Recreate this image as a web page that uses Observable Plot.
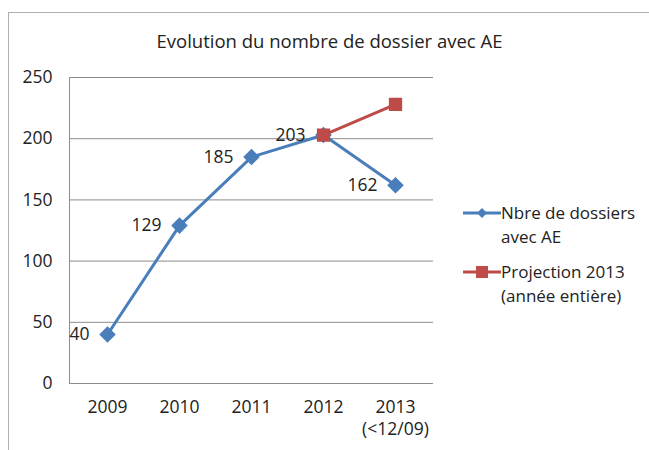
<!DOCTYPE html>
<html>
<head>
<meta charset="utf-8">
<script src="https://cdn.jsdelivr.net/npm/d3@7"></script>
<script src="https://cdn.jsdelivr.net/npm/@observablehq/plot@0.6"></script>
<style>
  html, body { margin: 0; padding: 0; background: #fff; }
  #wrap { position: relative; width: 649px; height: 450px; overflow: hidden; font-family: "Open Sans", Lato, sans-serif; color: #222; }
  #frame { position: absolute; left: 8px; top: 12px; width: 660px; height: 460px; border: 1px solid #b0b0b0; box-sizing: border-box; }
  #title { position: absolute; left: 0; width: 649px; top: 29px; text-align: center; padding-left: 10px; box-sizing: border-box; font-size: 18.5px; line-height: 24px; color: #222; }
  #chart { position: absolute; left: 0; top: 0; }
  #legend { position: absolute; left: 463px; top: 201px; font-size: 17px; line-height: 24px; color: #222; }
  .item { display: flex; align-items: flex-start; margin-bottom: 11px; }
  .item svg { flex: none; margin-top: 3px; }
</style>
</head>
<body>
<div id="wrap">
  <div id="frame"></div>
  <div id="title"></div>
  <div id="chart"></div>
  <div id="legend"></div>
</div>
<script>
const title = "Evolution du nombre de dossier avec AE";
const categories = ["2009", "2010", "2011", "2012", "2013\n(<12/09)"];
const seriesNames = ["Nbre de dossiers avec AE", "Projection 2013 (année entière)"];
const legendLines = [["Nbre de dossiers", "avec AE"], ["Projection 2013", "(année entière)"]];
const dossiers = [40, 129, 185, 203, 162];
const projectionCats = ["2012", "2013\n(<12/09)"];
const projection = [203, 228];
const yTicks = [0, 50, 100, 150, 200, 250];
const blue = "#4a7ebb";
const red = "#be4b48";

document.getElementById("title").textContent = title;

const blueData = categories.map((c, i) => ({cat: c, value: dossiers[i]}));
const redData = projectionCats.map((c, i) => ({cat: c, value: projection[i]}));

const chart = Plot.plot({
  width: 649,
  height: 450,
  marginLeft: 69,
  marginRight: 216,
  marginTop: 77,
  marginBottom: 67,
  style: {fontFamily: "'Open Sans', Lato, sans-serif", fontSize: "17.5px", color: "#222", background: "transparent"},
  x: {type: "point", domain: categories, padding: 0.5, label: null},
  y: {domain: [0, 250], ticks: yTicks, label: null},
  marks: [
    Plot.gridY(yTicks, {stroke: "#8c8c8c", strokeOpacity: 1, strokeWidth: 1}),
    Plot.frame({anchor: "left", stroke: "#8c8c8c", strokeOpacity: 1}),
    Plot.axisY(yTicks, {tickSize: 0, tickPadding: 17, fontSize: 17.5, fill: "#222"}),
    Plot.axisX({tickSize: 0, tickPadding: 13, fontSize: 17.5, fill: "#222", lineHeight: 1.3}),
    Plot.line(blueData, {x: "cat", y: "value", stroke: blue, strokeWidth: 3}),
    Plot.dot(blueData, {x: "cat", y: "value", symbol: "diamond2", r: 6.5, fill: blue, stroke: blue}),
    Plot.line(redData, {x: "cat", y: "value", stroke: red, strokeWidth: 3}),
    Plot.dot(redData, {x: "cat", y: "value", symbol: "square2", r: 7.5, fill: red, stroke: red}),
    Plot.text(blueData, {x: "cat", y: "value", text: d => String(d.value), textAnchor: "end", dx: -18, dy: 0, fontSize: 17.5, fill: "#222"})
  ]
});
document.getElementById("chart").appendChild(chart);

const legend = document.getElementById("legend");
const colors = [blue, red];
seriesNames.forEach((name, i) => {
  const item = document.createElement("div");
  item.className = "item";
  item.setAttribute("title", name);
  const svgNS = "http://www.w3.org/2000/svg";
  const sv = document.createElementNS(svgNS, "svg");
  sv.setAttribute("width", "38");
  sv.setAttribute("height", "18");
  const ln = document.createElementNS(svgNS, "line");
  ln.setAttribute("x1", "0"); ln.setAttribute("x2", "38");
  ln.setAttribute("y1", "9"); ln.setAttribute("y2", "9");
  ln.setAttribute("stroke", colors[i]); ln.setAttribute("stroke-width", "3");
  sv.appendChild(ln);
  if (i === 0) {
    const p = document.createElementNS(svgNS, "path");
    p.setAttribute("d", "M19,4 L24,9 L19,14 L14,9 Z");
    p.setAttribute("fill", colors[i]);
    sv.appendChild(p);
  } else {
    const r = document.createElementNS(svgNS, "rect");
    r.setAttribute("x", "13"); r.setAttribute("y", "3");
    r.setAttribute("width", "12"); r.setAttribute("height", "12");
    r.setAttribute("fill", colors[i]);
    sv.appendChild(r);
  }
  item.appendChild(sv);
  const t = document.createElement("div");
  t.innerHTML = legendLines[i].join("<br>");
  item.appendChild(t);
  legend.appendChild(item);
});
</script>
</body>
</html>
